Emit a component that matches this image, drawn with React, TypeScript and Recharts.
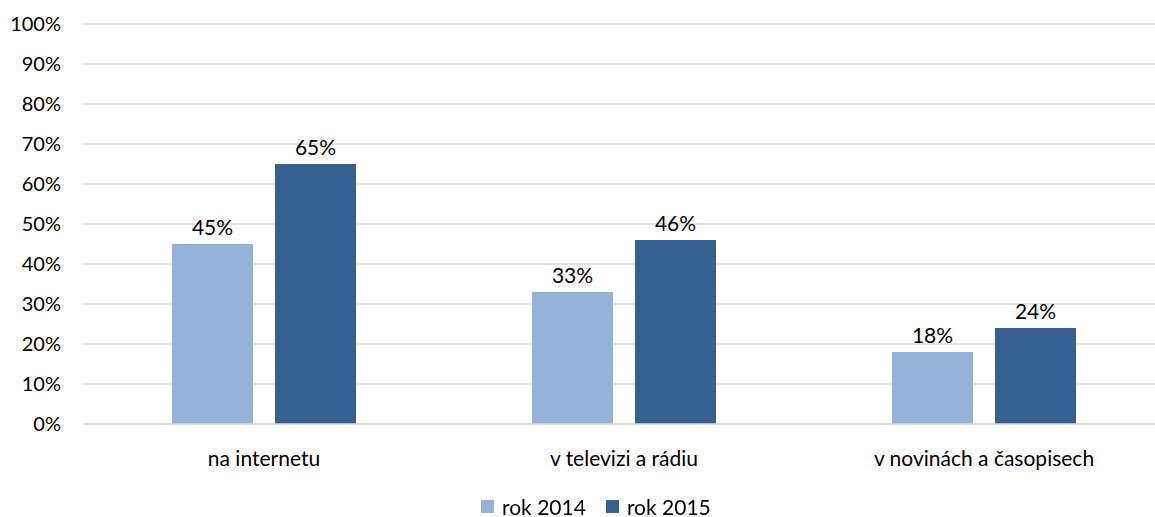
import { Bar, BarChart, CartesianGrid, LabelList, XAxis, YAxis } from "recharts";

const categories = ["na internetu", "v televizi a rádiu", "v novinách a časopisech"];
const rok2014 = [45, 33, 18];
const rok2015 = [65, 46, 24];
const yTicks = [0, 10, 20, 30, 40, 50, 60, 70, 80, 90, 100];

const LIGHT = "#95b3d7";
const DARK = "#376092";
const FONT = "Lato, 'Open Sans', sans-serif";

const data = categories.map((name, i) => ({ name, a: rok2014[i], b: rok2015[i] }));

function LegendBox() {
  const items = [
    { label: "rok 2014", color: LIGHT },
    { label: "rok 2015", color: DARK }
  ];
  return (
    <div style={{ position: "absolute", left: 481, top: 496, height: 21, display: "flex", gap: 20, fontFamily: FONT, fontSize: 21, color: "#000" }}>
      {items.map((it) => (
        <span key={it.label} style={{ display: "flex", alignItems: "center", gap: 8, lineHeight: "21px", height: 21 }}>
          <span style={{ width: 13, height: 13, background: it.color, display: "inline-block" }} />
          {it.label}
        </span>
      ))}
    </div>
  );
}

export default function App() {
  return (
    <div style={{ position: "fixed", left: 0, top: 0, width: 1155, height: 517, background: "#fff" }}>
      <BarChart
        width={1155}
        height={517}
        data={data}
        margin={{ top: 24, right: -9, left: 0, bottom: 43 }}
        barCategoryGap={88}
        barGap={22}
      >
        <CartesianGrid vertical={false} stroke="#d9d9d9" strokeWidth={1.5} />
        <XAxis
          dataKey="name"
          height={50}
          axisLine={{ stroke: "#d9d9d9", strokeWidth: 1.5 }}
          tickLine={false}
          tickMargin={21}
          tick={{ fill: "#000", fontSize: 21, fontFamily: FONT }}
        />
        <YAxis
          width={84}
          domain={[0, 100]}
          ticks={yTicks}
          interval={0}
          axisLine={false}
          tickLine={false}
          tickSize={0}
          tickMargin={23}
          tickFormatter={(v: number) => `${v}%`}
          tick={{ fill: "#000", fontSize: 20, fontFamily: FONT }}
        />
        <Bar dataKey="a" fill={LIGHT} isAnimationActive={false}>
          <LabelList dataKey="a" position="top" offset={9} formatter={(v: number) => `${v}%`} fill="#000" fontSize={21} fontFamily={FONT} />
        </Bar>
        <Bar dataKey="b" fill={DARK} isAnimationActive={false}>
          <LabelList dataKey="b" position="top" offset={9} formatter={(v: number) => `${v}%`} fill="#000" fontSize={21} fontFamily={FONT} />
        </Bar>
      </BarChart>
      <LegendBox />
    </div>
  );
}
